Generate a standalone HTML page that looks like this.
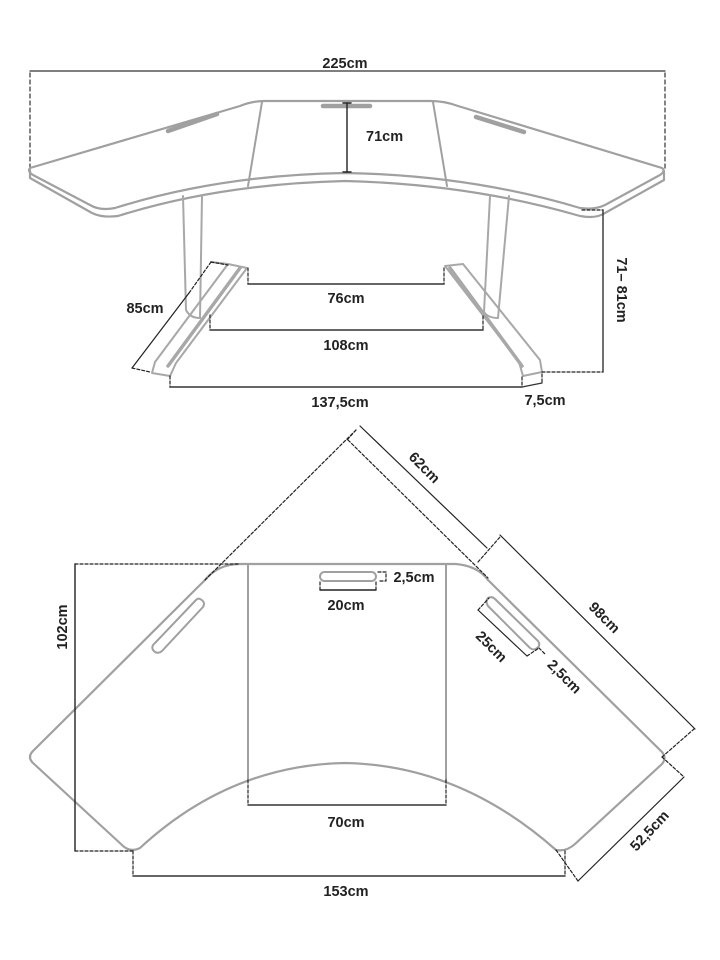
<!DOCTYPE html>
<html><head><meta charset="utf-8"><style>
html,body{margin:0;padding:0;background:#fff;}
svg{display:block}
text{font-family:"Liberation Sans",sans-serif;font-size:14.5px;font-weight:bold;fill:#222;}
</style></head><body>
<svg width="720" height="960" viewBox="0 0 720 960" xmlns="http://www.w3.org/2000/svg">
<g fill="none" stroke-linecap="round" stroke-linejoin="round">
<!-- ===== TOP VIEW ===== -->
<!-- 225 dimension -->
<line x1="30" y1="71" x2="665" y2="71" stroke="#333" stroke-width="1.3"/>
<g stroke="#333" stroke-width="1.2" stroke-dasharray="4,3">
<line x1="30" y1="73" x2="30" y2="168"/><line x1="665" y1="73" x2="665" y2="168"/>
</g>
<!-- tabletop surface -->
<path d="M30,168 L240,106 Q252,101 265,101 L430,101 Q445,101 458,106 L662,168 Q666,171 660,175 L605,205 Q595,210 580,208 Q470,175 345,173 Q220,175 115,208 Q100,211 90,205 L33,175 Q27,171 30,168 Z" stroke="#a0a0a0" stroke-width="2.2"/>
<!-- thickness -->
<path d="M30,170 L30,178 L92,213 Q102,218 118,216 Q220,184 345,181 Q470,184 580,216 Q596,219 605,213 L664,180 L664,171" stroke="#a0a0a0" stroke-width="2.2"/>
<!-- panel lines -->
<line x1="262" y1="102" x2="248" y2="186" stroke="#a0a0a0" stroke-width="2"/>
<line x1="433" y1="102" x2="447" y2="186" stroke="#a0a0a0" stroke-width="2"/>
<!-- slots -->
<line x1="323" y1="106" x2="370" y2="106" stroke="#a0a0a0" stroke-width="4.5"/>
<line x1="168" y1="131" x2="217" y2="114" stroke="#a0a0a0" stroke-width="4.5"/>
<line x1="476" y1="117" x2="524" y2="132" stroke="#a0a0a0" stroke-width="4.5"/>
<!-- 71cm -->
<line x1="347" y1="103" x2="347" y2="172" stroke="#222" stroke-width="1.4"/>
<line x1="343" y1="103" x2="351" y2="103" stroke="#222" stroke-width="1.4"/>
<line x1="343" y1="172" x2="351" y2="172" stroke="#222" stroke-width="1.4"/>
<!-- legs -->
<g stroke="#a8a8a8" stroke-width="2">
<path d="M183,196 L186,310 Q190,318 200,318 L202,196"/>
<path d="M490,196 L484,312 Q488,318 498,318 L509,196"/>
<!-- left foot -->
<path d="M228,264 L155,362 L152,373 L170,376 L176,363 L247,268 Z"/>
<line x1="211" y1="262" x2="228" y2="264"/>
<line x1="240" y1="268" x2="168" y2="366" stroke-width="3.5"/>
<!-- right foot -->
<path d="M445,266 L463,264 L540,360 L542,372 L523,376 L519,362 Z"/>
<line x1="450" y1="268" x2="522" y2="366" stroke-width="3.5"/>
</g>
<!-- 85cm -->
<line x1="189" y1="293" x2="132" y2="368" stroke="#222" stroke-width="1.2"/>
<g stroke="#222" stroke-width="1.2" stroke-dasharray="3,2">
<line x1="211" y1="262" x2="189" y2="293"/>
<line x1="132" y1="368" x2="150" y2="372"/>
<line x1="211" y1="262" x2="228" y2="265"/>
<!-- 76 -->
<line x1="248" y1="268" x2="248" y2="284"/><line x1="444" y1="268" x2="444" y2="284"/>
<!-- 108 -->
<line x1="210" y1="315" x2="210" y2="330"/><line x1="483" y1="316" x2="483" y2="330"/>
<!-- 137.5 -->
<line x1="170" y1="376" x2="170" y2="387"/><line x1="522" y1="377" x2="522" y2="387"/>
<line x1="542" y1="374" x2="542" y2="383"/>
<!-- 71-81 -->
<line x1="542" y1="372" x2="603" y2="372"/>
<line x1="582" y1="210" x2="603" y2="210"/>
</g>
<line x1="248" y1="284" x2="444" y2="284" stroke="#333" stroke-width="1.6"/>
<line x1="210" y1="330" x2="483" y2="330" stroke="#333" stroke-width="1.6"/>
<line x1="170" y1="387" x2="522" y2="387" stroke="#333" stroke-width="1.6"/>
<line x1="522" y1="387" x2="542" y2="383" stroke="#333" stroke-width="1.4"/>
<line x1="603" y1="210" x2="603" y2="372" stroke="#333" stroke-width="1.4"/>

<!-- ===== BOTTOM VIEW ===== -->
<path d="M240,564 L456,564 Q478,566 488,580 L662,752 Q667,758 662,764 L575,844 Q566,852 556,850 Q460,765 345,763 Q230,765 140,848 Q130,853 122,845 L33,763 Q27,757 33,751 L205,580 Q218,564 240,564 Z" stroke="#a0a0a0" stroke-width="2.2"/>
<line x1="248" y1="564" x2="248" y2="780" stroke="#a0a0a0" stroke-width="2"/>
<line x1="446" y1="564" x2="446" y2="780" stroke="#a0a0a0" stroke-width="2"/>
<!-- slots -->
<rect x="320" y="572" width="56" height="9" rx="4.5" stroke="#a0a0a0" stroke-width="2"/>
<path d="M200,599 Q206,602 203,607 L162,651 Q157,655 153,650 Q151,646 155,643 L196,600 Q198,598 200,599 Z" stroke="#a0a0a0" stroke-width="2"/>
<path d="M488,598 Q492,596 495,599 L538,641 Q541,645 537,648 Q534,651 530,648 L488,606 Q485,601 488,598 Z" stroke="#a0a0a0" stroke-width="2"/>
<!-- center slot dims -->
<line x1="320" y1="590" x2="376" y2="590" stroke="#222" stroke-width="1.4"/>
<g stroke="#222" stroke-width="1.2" stroke-dasharray="3,2">
<line x1="320" y1="582" x2="320" y2="590"/><line x1="376" y1="582" x2="376" y2="590"/>
<path d="M378,572 L386,572 L386,581 L378,581"/>
<!-- 70 -->
<line x1="248" y1="780" x2="248" y2="805"/><line x1="446" y1="780" x2="446" y2="805"/>
<!-- 102 -->
<line x1="75" y1="564" x2="240" y2="564"/><line x1="75" y1="851" x2="133" y2="851"/>
<!-- 153 -->
<line x1="133" y1="851" x2="133" y2="876"/><line x1="565" y1="851" x2="565" y2="876"/>
<!-- triangle -->
<line x1="205" y1="580" x2="356" y2="430"/>
<line x1="348" y1="440" x2="488" y2="578"/>
<line x1="356" y1="430" x2="347" y2="440"/>
<line x1="478" y1="562" x2="500" y2="537"/>
<line x1="662" y1="757" x2="694" y2="729"/>
<line x1="662" y1="757" x2="684" y2="777"/>
<line x1="556" y1="850" x2="578" y2="881"/>
<!-- right slot dims -->
<line x1="478" y1="610" x2="489" y2="598"/>
<line x1="527" y1="656" x2="539" y2="648"/>
<line x1="539" y1="648" x2="545" y2="654"/>
</g>
<line x1="248" y1="805" x2="446" y2="805" stroke="#333" stroke-width="1.6"/>
<line x1="75" y1="564" x2="75" y2="851" stroke="#222" stroke-width="1.4"/>
<line x1="133" y1="876" x2="565" y2="876" stroke="#333" stroke-width="1.6"/>
<line x1="360" y1="426" x2="487" y2="548" stroke="#222" stroke-width="1.2"/>
<line x1="500" y1="535" x2="695" y2="729" stroke="#222" stroke-width="1.2"/>
<line x1="684" y1="777" x2="578" y2="881" stroke="#222" stroke-width="1.2"/>
<line x1="478" y1="610" x2="527" y2="656" stroke="#222" stroke-width="1.2"/>
</g>

<!-- labels -->
<text x="345" y="68" text-anchor="middle">225cm</text>
<text x="366" y="141">71cm</text>
<text x="145" y="313" text-anchor="middle">85cm</text>
<text x="346" y="303" text-anchor="middle">76cm</text>
<text x="346" y="350" text-anchor="middle">108cm</text>
<text x="340" y="407" text-anchor="middle">137,5cm</text>
<text x="545" y="405" text-anchor="middle">7,5cm</text>
<text transform="translate(617,290) rotate(90)" text-anchor="middle">71– 81cm</text>

<text x="414" y="582" text-anchor="middle">2,5cm</text>
<text x="346" y="610" text-anchor="middle">20cm</text>
<text transform="translate(67,627) rotate(-90)" text-anchor="middle">102cm</text>
<text x="346" y="827" text-anchor="middle">70cm</text>
<text x="346" y="896" text-anchor="middle">153cm</text>
<text transform="translate(421,471) rotate(45)" text-anchor="middle">62cm</text>
<text transform="translate(601,621) rotate(45)" text-anchor="middle">98cm</text>
<text transform="translate(488,650) rotate(45)" text-anchor="middle">25cm</text>
<text transform="translate(561,680) rotate(45)" text-anchor="middle">2,5cm</text>
<text transform="translate(653,834) rotate(-47)" text-anchor="middle">52,5cm</text>
</svg>
</body></html>
